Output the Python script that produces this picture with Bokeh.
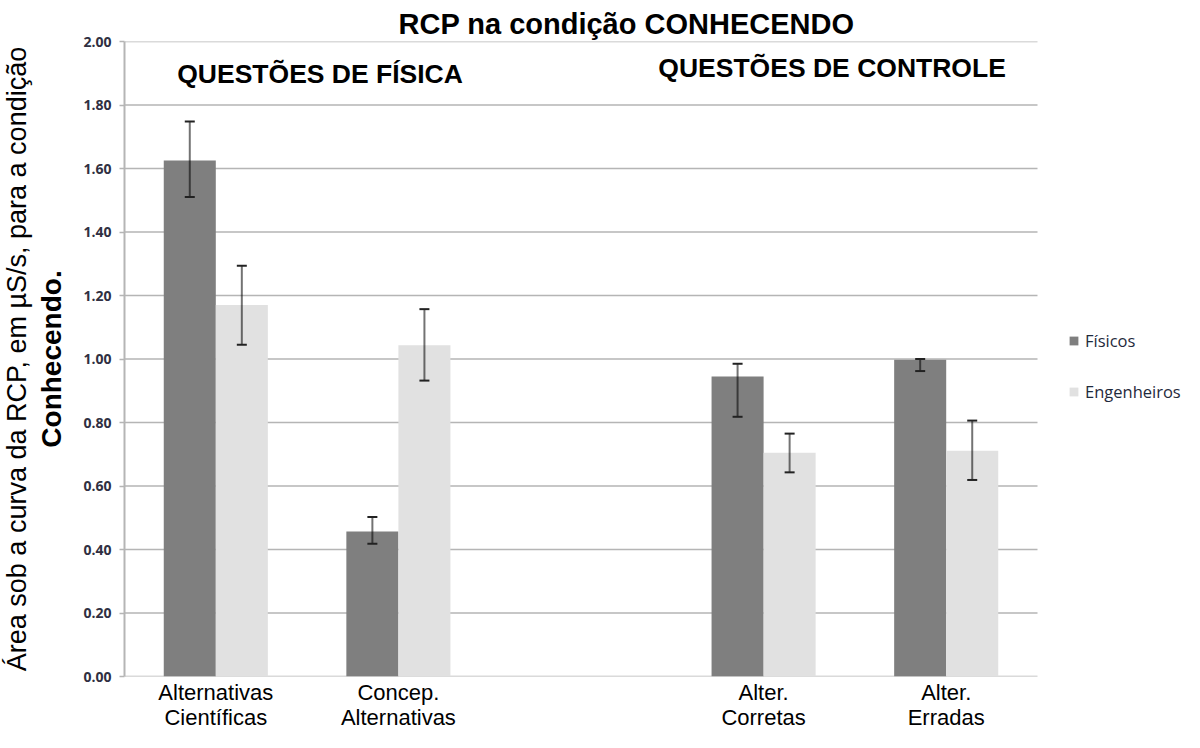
from bokeh.plotting import figure
from bokeh.models import (ColumnDataSource, Range1d, Whisker, TeeHead,
                          Legend, LegendItem, Title, Label, FixedTicker, NumeralTickFormatter)
from bokeh.transform import dodge
from bokeh.embed import file_html
from bokeh.resources import INLINE

# ---- data ----
slots = ["Alternativas\nCientíficas", "Concep.\nAlternativas", "", "Alter.\nCorretas", "Alter.\nErradas"]
categories = ["Alternativas\nCientíficas", "Concep.\nAlternativas", "Alter.\nCorretas", "Alter.\nErradas"]
fisicos = [1.625, 0.457, 0.945, 0.998]
fisicos_lo = [1.510, 0.418, 0.818, 0.962]
fisicos_hi = [1.748, 0.502, 0.985, 1.000]
engenheiros = [1.170, 1.043, 0.705, 0.711]
engenheiros_lo = [1.045, 0.932, 0.643, 0.619]
engenheiros_hi = [1.294, 1.157, 0.765, 0.806]
y_ticks = [0.0, 0.2, 0.4, 0.6, 0.8, 1.0, 1.2, 1.4, 1.6, 1.8, 2.0]

xpos = [slots.index(c) for c in categories]
src = ColumnDataSource(dict(x=xpos, cat=categories, f=fisicos, f_lo=fisicos_lo, f_hi=fisicos_hi,
                            e=engenheiros, e_lo=engenheiros_lo, e_hi=engenheiros_hi))

DARK = "#7f7f7f"
LIGHT = "#e1e1e1"
GRID = "#b5b5b5"

n = len(slots)
p = figure(x_range=Range1d(-0.5, n - 0.5 + 147 / 182.6), y_range=Range1d(0, 2),
           width=1184, height=732, output_backend="svg", toolbar_location=None,
           min_border_left=124, min_border_right=0, min_border_top=41, min_border_bottom=49)
p.outline_line_color = None
p.background_fill_color = "white"

# horizontal grid lines (only across the category area) incl. the baseline
p.segment(x0=[-0.5] * len(y_ticks), x1=[n - 0.5] * len(y_ticks), y0=y_ticks, y1=y_ticks,
          line_color=GRID, line_width=1.6)

bw = 0.285
off = 0.1425
r1 = p.vbar(x=dodge("x", -off), top="f", width=bw, source=src, fill_color=DARK, line_color=None)
r2 = p.vbar(x=dodge("x", off), top="e", width=bw, source=src, fill_color=LIGHT, line_color=None)

for o, lo, hi in [(-off, "f_lo", "f_hi"), (off, "e_lo", "e_hi")]:
    w = Whisker(source=src, base=dodge("x", o), lower=lo, upper=hi,
                line_color="black", line_alpha=0.55, line_width=2, level="annotation",
                upper_head=TeeHead(size=10, line_color="#222222", line_width=2),
                lower_head=TeeHead(size=10, line_color="#222222", line_width=2))
    p.add_layout(w)

# y axis
p.xgrid.grid_line_color = None
p.ygrid.grid_line_color = None
p.yaxis.ticker = FixedTicker(ticks=y_ticks)
p.yaxis.formatter = NumeralTickFormatter(format="0.00")
p.yaxis.axis_line_color = GRID
p.yaxis.axis_line_width = 2
p.yaxis.major_tick_line_color = GRID
p.yaxis.major_tick_line_width = 1.5
p.yaxis.major_tick_out = 5
p.yaxis.major_tick_in = 0
p.yaxis.minor_tick_line_color = None
p.yaxis.major_label_text_font = "Open Sans"
p.yaxis.major_label_text_font_style = "bold"
p.yaxis.major_label_text_font_size = "14px"
p.yaxis.major_label_text_color = "#303042"
p.yaxis.major_label_standoff = 8

# x axis with category labels
p.xaxis.ticker = FixedTicker(ticks=xpos)
p.xaxis.major_label_overrides = {i: c for i, c in enumerate(slots) if c}
p.xaxis.axis_line_color = None
p.xaxis.major_tick_line_color = None
p.xaxis.minor_tick_line_color = None
p.xaxis.major_tick_out = 0
p.xaxis.major_tick_in = 0
p.xaxis.major_label_standoff = 3
p.xaxis.major_label_text_font = "Liberation Sans"
p.xaxis.major_label_text_font_size = "22px"
p.xaxis.major_label_text_color = "black"
p.xaxis.major_label_text_line_height = 1.0

# title
p.title = Title(text="RCP na condição CONHECENDO", align="left", offset=274,
                text_font="Liberation Sans", text_font_size="29px", text_font_style="bold",
                text_color="black", standoff=4)

# y label (two lines, second bold)
t1 = Title(text="Conhecendo.", align="center", text_font="Liberation Sans",
           text_font_size="28px", text_font_style="bold", text_color="black", standoff=27)
p.add_layout(t1, "left")
t2 = Title(text="Área sob a curva da RCP, em µS/s, para a condição", align="center",
           text_font="Liberation Sans", text_font_size="27px", text_font_style="normal",
           text_color="black", standoff=-23)
p.add_layout(t2, "left")

# section labels
p.add_layout(Label(x=0.571, y=1.897, text="QUESTÕES DE FÍSICA", text_align="center",
                   text_baseline="middle", text_font="Liberation Sans", text_font_size="26.5px",
                   text_font_style="bold", text_color="black"))
p.add_layout(Label(x=3.375, y=1.916, text="QUESTÕES DE CONTROLE", text_align="center",
                   text_baseline="middle", text_font="Liberation Sans", text_font_size="26.5px",
                   text_font_style="bold", text_color="black"))

legend = Legend(items=[LegendItem(label="Físicos", renderers=[r1]),
                       LegendItem(label="Engenheiros", renderers=[r2])],
                location=(944, 273), margin=0, padding=0, spacing=28,
                glyph_width=11, glyph_height=11, label_standoff=6,
                label_text_font="Open Sans", label_text_font_size="16.5px",
                label_text_color="#1f2a3c", border_line_color=None, background_fill_alpha=0)
p.add_layout(legend, "center")

open("out.html", "w").write(file_html(p, INLINE))
